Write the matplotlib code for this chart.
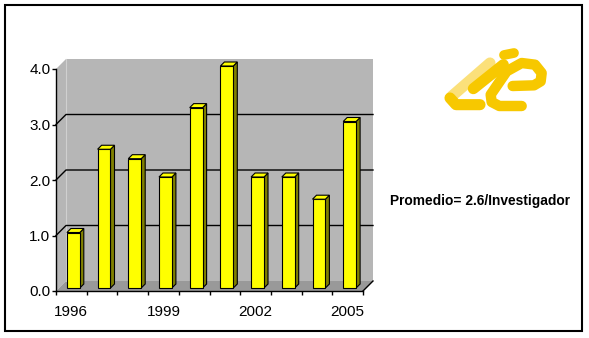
import numpy as np
from matplotlib import pyplot as plt
from matplotlib.patches import Polygon, Rectangle

# Datos del grafico (promedio por investigador)
anios = ["1996", "1997", "1998", "1999", "2000", "2001", "2002", "2003", "2004", "2005"]
valores = [1.0, 2.5, 2.33, 2.0, 3.25, 4.0, 2.0, 2.0, 1.6, 3.0]
etiquetas_y = ["0.0", "1.0", "2.0", "3.0", "4.0"]
anios_visibles = [0, 3, 6, 9]
texto_promedio = "Promedio= 2.6/Investigador"

plt.rcParams['font.family'] = ['Liberation Sans', 'DejaVu Sans']

W, H = 589, 338
fig = plt.figure(figsize=(W / 100, H / 100), dpi=100)
fig.patch.set_facecolor("white")

# ejes frontales en pixeles: x 56..363, y 291..69
ax = fig.add_axes([56 / W, (H - 291) / H, 307 / W, 222 / H])
n = len(valores)
ax.set_xlim(-0.5, n - 0.5)
ax.set_ylim(0, 4)
ax.set_facecolor("none")

# profundidad 3D en unidades de datos (10 px)
px_x = 307 / n
px_y = 222 / 4
DX, DY = 10 / px_x, 10 / px_y

color_pared = "#b6b6b6"
color_piso = "#999999"

x0, x1 = -0.5, n - 0.5
pared = Polygon([(x0 + DX, DY), (x1 + DX, DY), (x1 + DX, 4 + DY), (x0 + DX, 4 + DY)],
                closed=True, facecolor=color_pared, edgecolor="none", zorder=0, clip_on=False)
lateral = Polygon([(x0, 0), (x0 + DX, DY), (x0 + DX, 4 + DY), (x0, 4)],
                  closed=True, facecolor=color_pared, edgecolor="none", zorder=0, clip_on=False)
piso = Polygon([(x0, 0), (x1, 0), (x1 + DX, DY), (x0 + DX, DY)],
               closed=True, facecolor=color_piso, edgecolor="none", zorder=0.5, clip_on=False)
for p in (pared, lateral, piso):
    ax.add_patch(p)
ax.plot([x0 + DX, x0 + DX], [DY, 4 + DY], color="#d0d0d0", lw=0.8, zorder=0.6, clip_on=False)

# lineas de cuadricula
for v in [1, 2, 3]:
    ax.plot([x0, x0 + DX, x1 + DX], [v, v + DY, v + DY], color="black", lw=1, zorder=1, clip_on=False)
ax.plot([x1, x1 + DX], [0, DY], color="black", lw=1, zorder=1, clip_on=False)

# barras con efecto 3D
ancho = 0.42
bx, by = 2 / px_x, 3 / px_y
dxb, dyb = 4 / px_x, 4 / px_y
xs = np.arange(n) + bx
barras = ax.bar(xs, valores, width=ancho, bottom=by, color="#ffff00", edgecolor="black", lw=0.8, zorder=3)
for b in barras:
    b.set_clip_on(False)
for xc, v in zip(xs, valores):
    xl, xr = xc - ancho / 2, xc + ancho / 2
    top = by + v
    lado = Polygon([(xr, by), (xr + dxb, by + dyb), (xr + dxb, top + dyb), (xr, top)],
                   closed=True, facecolor="#808000", edgecolor="black", lw=0.8, zorder=2.9, clip_on=False)
    tapa = Polygon([(xl, top), (xr, top), (xr + dxb, top + dyb), (xl + dxb, top + dyb)],
                   closed=True, facecolor="#ffff00", edgecolor="black", lw=0.8, zorder=3.1, clip_on=False)
    ax.add_patch(lado)
    ax.add_patch(tapa)

# ejes
for s in ["top", "right"]:
    ax.spines[s].set_visible(False)
for s in ["left", "bottom"]:
    ax.spines[s].set_color("black")
    ax.spines[s].set_linewidth(1)
    ax.spines[s].set_zorder(4)

ax.set_yticks(range(5))
ax.set_yticklabels(etiquetas_y)
ax.tick_params(axis="y", direction="out", length=3, width=1, pad=1, labelsize=11)
ax.set_xticks(np.arange(-0.5, n, 1.0))
ax.set_xticklabels([])
ax.tick_params(axis="x", which="major", direction="out", length=3, width=1)
ax.set_xticks(anios_visibles, minor=True)
ax.set_xticklabels([anios[i] for i in anios_visibles], minor=True)
ax.tick_params(axis="x", which="minor", length=0, pad=10, labelsize=11)

fig.text(390 / W, (H - 201) / H, texto_promedio, ha="left", va="center",
         fontsize=9.9, fontweight="bold", color="black")

# logotipo
lg = fig.add_axes([440 / W, (H - 112) / H, 110 / W, 64 / H])
lg.set_xlim(0, 330)
lg.set_ylim(192, 0)
lg.axis("off")
oro = "#f7c800"
claro = "#fbe07a"
lg.plot([150, 35], [45, 145], color=claro, lw=8, solid_capstyle="round")
lg.plot([190, 100], [50, 122], color=oro, lw=8, solid_capstyle="round")
lg.plot([30, 48, 120], [150, 170, 170], color=oro, lw=8,
        solid_capstyle="round", solid_joinstyle="round")
lg.plot([192, 222], [21, 15], color=oro, lw=7, solid_capstyle="round")
lg.plot([245, 178, 155, 152, 200, 245, 285, 305, 302, 282, 218],
        [174, 174, 162, 140, 70, 45, 50, 75, 100, 112, 114],
        color=oro, lw=7.5, solid_capstyle="round", solid_joinstyle="round")

# borde del grafico
fig.patches.append(Rectangle((4.5 / W, (H - 331) / H), 577.5 / W, 326.5 / H,
                             transform=fig.transFigure, fill=False,
                             edgecolor="black", lw=1.5))

fig.savefig("out.png", dpi=100)
